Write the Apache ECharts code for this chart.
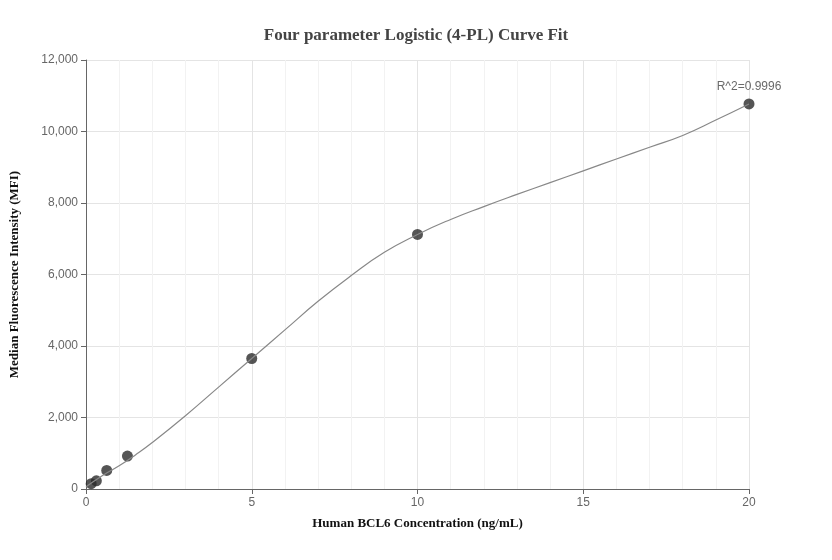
<!DOCTYPE html><html><head><meta charset="utf-8"><script src="https://cdn.jsdelivr.net/npm/echarts@6/dist/echarts.min.js"></script></head><body style="margin:0"><div id="c" style="width:832px;height:560px"></div><script>
const pointX=[0.156,0.3125,0.625,1.25,5,10,20];
const pointY=[150,230,520,920,3650,7120,10770];
const curveX=[0,0.5,1,1.5,2,3,4,5,6,7,8,9,10,11,12,13,14,15,16,17,18,19,20];
const curveY=[60,380,650,960,1300,2050,2850,3650,4450,5250,5970,6620,7120,7540,7900,8240,8570,8900,9230,9560,9890,10320,10770];
const yTicks=[0,2000,4000,6000,8000,10000,12000];
const c=echarts.init(document.getElementById('c'));
const serif='"Liberation Serif","Times New Roman",serif';
c.setOption({
title:{text:'Four parameter Logistic (4-PL) Curve Fit',left:'center',top:22,textStyle:{fontFamily:serif,fontSize:17,fontWeight:'bold',color:'#444'}},
grid:{left:83,right:83,top:60,bottom:71},
xAxis:{type:'value',min:0,max:20,interval:5,name:'Human BCL6 Concentration (ng/mL)',nameLocation:'middle',nameGap:28,nameTextStyle:{fontFamily:serif,fontWeight:'bold',fontSize:13,color:'#111'},axisLine:{lineStyle:{color:'#666'}},axisTick:{show:true,lineStyle:{color:'#666'}},axisLabel:{color:'#666',fontSize:12},splitLine:{lineStyle:{color:'#e4e4e4'}},minorTick:{show:false,splitNumber:5},minorSplitLine:{show:true,lineStyle:{color:'#f2f2f2'}}},
yAxis:{type:'value',min:0,max:12000,interval:2000,name:'Median Fluorescence Intensity (MFI)',nameLocation:'middle',nameGap:65,nameTextStyle:{fontFamily:serif,fontWeight:'bold',fontSize:13,color:'#111'},axisLine:{show:true,lineStyle:{color:'#666'}},axisTick:{show:true,lineStyle:{color:'#666'}},axisLabel:{color:'#666',fontSize:12,formatter:v=>yTicks.includes(v)?v.toLocaleString('en-US'):''},splitLine:{lineStyle:{color:'#e4e4e4'}}},
series:[
{type:'line',data:curveX.map((x,i)=>[x,curveY[i]]),smooth:true,symbol:'none',lineStyle:{color:'#888',width:1.2},silent:true},
{type:'scatter',data:pointX.map((x,i)=>[x,pointY[i]]),symbolSize:11,itemStyle:{color:'#2b2b2b'},
 label:{show:true,position:'top',distance:6,color:'#444',fontSize:12,formatter:p=>p.dataIndex===6?'R^2=0.9996':''}}
]});
</script></body></html>
